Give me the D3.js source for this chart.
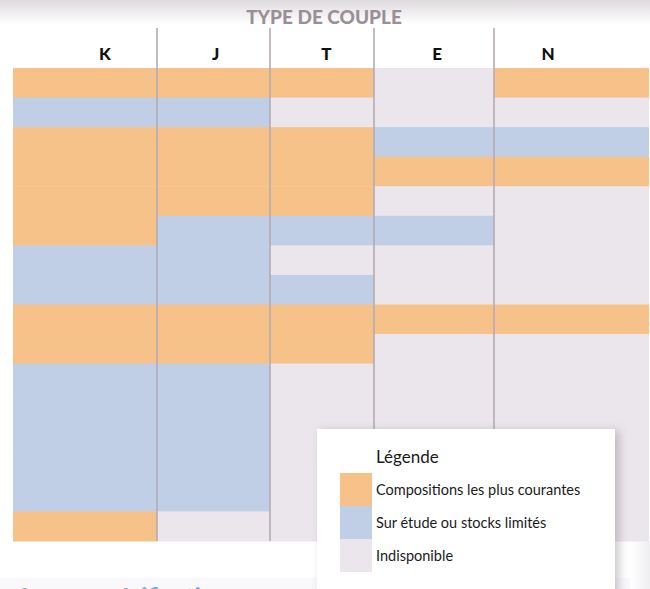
<!DOCTYPE html>
<html lang="fr">
<head>
  <meta charset="UTF-8">
  <title>Type de couple</title>
  <script src="https://d3js.org/d3.v7.min.js"></script>
  <style>
    body { margin: 0; background: #fff; font-family: Lato, "Open Sans", sans-serif; }
    svg { display: block; }
  </style>
</head>
<body>
<div id="chart"></div>
<script>
  // --- data ---
  const columns = ["K", "J", "T", "E", "N"];
  // one code per row, top to bottom: O = courante, B = sur étude, I = indisponible
  const colK = ["O","B","O","O","O","O","B","B","O","O","B","B","B","B","B","O"];
  const colJ = ["O","B","O","O","O","B","B","B","O","O","B","B","B","B","B","I"];
  const colT = ["O","I","O","O","O","B","I","B","O","O","I","I","I","I","I","I"];
  const colE = ["I","I","B","O","I","B","I","I","O","I","I","I","I","I","I","I"];
  const colN = ["O","I","B","O","I","I","I","I","O","I","I","I","I","I","I","I"];
  const statusKeys = ["O", "B", "I"];
  const statusLabels = ["Compositions les plus courantes", "Sur étude ou stocks limités", "Indisponible"];
  const title = "TYPE DE COUPLE";
  const legendTitle = "Légende";

  // --- layout ---
  const W = 650, H = 589;
  const grid = { left: 13, right: 649, top: 68, bottom: 541 };
  const colWeights = [144, 113, 104, 120, 155];   // relative column widths
  const colors = { O: "#f7c28a", B: "#c0cee6", I: "#ebe6eb" };

  const cells = [colK, colJ, colT, colE, colN];
  const rowIdx = d3.range(colK.length);

  const svg = d3.select("#chart").append("svg")
    .attr("width", W).attr("height", H);

  const defs = svg.append("defs");
  const topGrad = defs.append("linearGradient").attr("id", "topfade")
    .attr("x1", 0).attr("y1", 0).attr("x2", 0).attr("y2", 1);
  topGrad.append("stop").attr("offset", "0%").attr("stop-color", "#dedadd");
  topGrad.append("stop").attr("offset", "100%").attr("stop-color", "#fff");
  const sideGrad = defs.append("linearGradient").attr("id", "sidefade")
    .attr("x1", 0).attr("y1", 0).attr("x2", 1).attr("y2", 0);
  sideGrad.append("stop").attr("offset", "0%").attr("stop-color", "#fff");
  sideGrad.append("stop").attr("offset", "100%").attr("stop-color", "#efeff1");
  defs.append("filter").attr("id", "shadow")
    .attr("x", "-10%").attr("y", "-10%").attr("width", "130%").attr("height", "130%")
    .append("feDropShadow")
    .attr("dx", 4).attr("dy", 2).attr("stdDeviation", 5)
    .attr("flood-color", "#6a6068").attr("flood-opacity", 0.35);

  // page decoration
  svg.append("rect").attr("x", 0).attr("y", 0).attr("width", W).attr("height", 24)
    .attr("fill", "url(#topfade)");
  svg.append("rect").attr("x", 0).attr("y", 578).attr("width", W).attr("height", H - 578)
    .attr("fill", "#f9f9fb");
  svg.append("rect").attr("x", 630).attr("y", grid.bottom).attr("width", W - 630).attr("height", H - grid.bottom)
    .attr("fill", "url(#sidefade)");

  // scales
  const cum = [0];
  colWeights.forEach(w => cum.push(cum[cum.length - 1] + w));
  const xLin = d3.scaleLinear().domain([0, cum[cum.length - 1]]).range([grid.left, grid.right]);
  const xLeft = c => xLin(cum[columns.indexOf(c)]);
  const xRight = c => xLin(cum[columns.indexOf(c) + 1]);
  const xHead = d3.scalePoint().domain(columns).range([105, 548]);
  const y = d3.scaleBand().domain(rowIdx).range([grid.top, grid.bottom]);
  const color = d3.scaleOrdinal().domain(statusKeys).range(statusKeys.map(k => colors[k]));

  // cells
  const cellData = [];
  columns.forEach((c, i) => cells[i].forEach((s, r) => cellData.push({ col: c, row: r, status: s })));
  svg.append("g").selectAll("rect").data(cellData).join("rect")
    .attr("x", d => xLeft(d.col))
    .attr("y", d => y(d.row))
    .attr("width", d => xRight(d.col) - xLeft(d.col))
    .attr("height", y.bandwidth() + 0.5)
    .attr("fill", d => color(d.status));

  // column dividers
  svg.append("g").selectAll("line").data(columns.slice(1)).join("line")
    .attr("x1", d => xLeft(d)).attr("x2", d => xLeft(d))
    .attr("y1", 28).attr("y2", grid.bottom)
    .attr("stroke", "#b4abb3").attr("stroke-width", 1.6);

  // title + headers
  svg.append("text").attr("x", 324).attr("y", 24)
    .attr("text-anchor", "middle")
    .attr("font-family", "Lato, sans-serif").attr("font-weight", 900)
    .attr("font-size", 19).attr("fill", "#9b8f97")
    .text(title);

  svg.append("g").selectAll("text").data(columns).join("text")
    .attr("x", d => xHead(d)).attr("y", 60)
    .attr("text-anchor", "middle")
    .attr("font-family", "Lato, sans-serif").attr("font-weight", 900)
    .attr("font-size", 17).attr("fill", "#111")
    .text(d => d);

  // heading of the next section, cut by the bottom of the page
  svg.append("text").attr("x", 16).attr("y", 606)
    .attr("font-family", "Lato, sans-serif").attr("font-weight", 700)
    .attr("font-size", 24).attr("fill", "#86a6d8")
    .text("Autres spécifications");

  // legend
  const lg = svg.append("g").attr("transform", "translate(317,429)");
  lg.append("rect").attr("width", 298).attr("height", 200)
    .attr("fill", "#fff").attr("filter", "url(#shadow)");
  lg.append("text").attr("x", 59).attr("y", 34)
    .attr("font-size", 17).attr("fill", "#1a1a1a").text(legendTitle);
  const ly = d3.scaleBand().domain(statusKeys).range([44, 143]);
  const item = lg.selectAll("g.item").data(statusKeys).join("g").attr("class", "item");
  item.append("rect")
    .attr("x", 23).attr("y", d => ly(d))
    .attr("width", 32).attr("height", ly.bandwidth())
    .attr("fill", d => color(d));
  item.append("text")
    .attr("x", 59).attr("y", d => ly(d) + ly.bandwidth() / 2 + 5)
    .attr("font-size", 14.5).attr("fill", "#1a1a1a")
    .text((d, i) => statusLabels[i]);
</script>
</body>
</html>
